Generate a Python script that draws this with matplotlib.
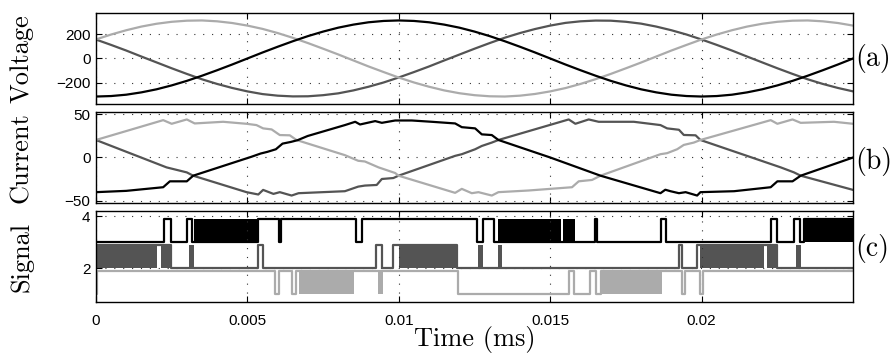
import numpy as np
import matplotlib
matplotlib.use('Agg')
import matplotlib.pyplot as plt

# ---- data ----
T_END = 0.025

# voltage, sampled every 0.5 us-step of the time axis (51 points)
v_time = np.linspace(0, T_END, 51)
v_black = [-311, -307, -296, -277, -252, -220, -183, -141, -96, -49, 0, 49, 96, 141, 183, 220, 252,
           277, 296, 307, 311, 307, 296, 277, 252, 220, 183, 141, 96, 49, 0, -49, -96, -141, -183,
           -220, -252, -277, -296, -307, -311, -307, -296, -277, -252, -220, -183, -141, -96, -49, 0]
v_light = [156, 196, 231, 261, 284, 300, 309, 311, 304, 290, 269, 242, 208, 169, 126, 80, 33, -16,
           -65, -111, -156, -196, -231, -261, -284, -300, -309, -311, -304, -290, -269, -242, -208,
           -169, -126, -80, -33, 16, 65, 111, 156, 196, 231, 261, 284, 300, 309, 311, 304, 290, 269]
v_dark = [155, 111, 65, 16, -32, -80, -126, -170, -208, -241, -269, -291, -304, -310, -309, -300,
          -285, -261, -231, -196, -155, -111, -65, -16, 32, 80, 126, 170, 208, 241, 269, 291, 304,
          310, 309, 300, 285, 261, 231, 196, 155, 111, 65, 16, -32, -80, -126, -170, -208, -241, -269]

# phase currents
i_t_black = [0, 0.001, 0.00222, 0.00244, 0.0030, 0.00321, 0.00513, 0.00544, 0.00566, 0.00594, 0.00616,
             0.00644, 0.00666, 0.00699, 0.00822, 0.00856, 0.00872, 0.00922, 0.00944, 0.00988, 0.01043,
             0.01109, 0.01186, 0.01208, 0.01252, 0.01274, 0.01307, 0.01329, 0.01500, 0.01666, 0.01864,
             0.0188, 0.01897, 0.01925, 0.01947, 0.01985, 0.01996, 0.02107, 0.02228, 0.0225, 0.023,
             0.02327, 0.025]
i_black = [-40, -38.5, -34.3, -27.5, -27.5, -21, 0.8, 4.6, 6.5, 9.5, 16, 18, 20, 24.8, 37.4, 41.2,
           38.1, 42, 40, 42.7, 42.7, 41.2, 39.3, 35, 33.6, 26.7, 25.9, 20.2, 0, -21, -41.2, -37.2,
           -38.9, -41.2, -40, -43.9, -40, -38.9, -34.3, -27.5, -27.5, -21, 0]
i_t_light = [0, 0.00222, 0.0025, 0.003, 0.00326, 0.0042, 0.00497, 0.0053, 0.00552, 0.0058, 0.00607,
             0.0064, 0.00662, 0.00822, 0.00866, 0.00888, 0.00933, 0.00988, 0.00999, 0.01186, 0.01208,
             0.01241, 0.01263, 0.01307, 0.01329, 0.01428, 0.01572, 0.01594, 0.01638, 0.01666, 0.01864,
             0.01886, 0.01919, 0.01941, 0.01974, 0.01996, 0.02228, 0.0225, 0.023, 0.02327, 0.02437, 0.025]
i_light = [20.2, 43.1, 38.9, 43.9, 39.3, 41.2, 38.9, 37.4, 33.6, 32.4, 25.9, 25.6, 20.2, 2.7, -3.8,
           -4.6, -11.4, -17.9, -21, -40.8, -36.2, -41.2, -40, -43.9, -40, -38.1, -34.3, -27.5, -25.9,
           -21, 3.8, 5, 9.5, 14.5, 17.2, 20.2, 43.1, 38.9, 43.9, 40, 41.2, 38.9]
i_t_dark = [0, 0.00233, 0.003, 0.00321, 0.00497, 0.00536, 0.00552, 0.00586, 0.00607, 0.00646, 0.00669,
            0.00822, 0.00866, 0.00888, 0.00927, 0.00944, 0.00982, 0.00999, 0.01186, 0.01208, 0.01252,
            0.01274, 0.01307, 0.01329, 0.01561, 0.01583, 0.01627, 0.0166, 0.01776, 0.01864, 0.01886,
            0.01925, 0.01941, 0.0198, 0.01996, 0.02261, 0.02305, 0.02327, 0.025]
i_dark = [20.2, -11.4, -17.2, -21, -40, -42.7, -37.4, -42, -40, -43.9, -41.2, -38.9, -33.6, -32.4,
          -31.7, -24.8, -23.7, -21, 1.9, 3.8, 9.5, 13.3, 17.2, 20.2, 43.9, 38.9, 43.9, 41.2, 41.2,
          37.4, 33.6, 32, 26, 25.6, 20.2, -11.4, -17.2, -21, -37.4]

# switching signals: start state, toggle times, and blocks of dense PWM switching
s_black_start = 0
s_black_toggles = [0.00226, 0.00247, 0.00299, 0.00318, 0.00534, 0.00603, 0.00612, 0.00858, 0.00877,
                   0.01258, 0.01278, 0.01313, 0.01647, 0.01655, 0.01866, 0.01883, 0.0223, 0.0225,
                   0.02305, 0.02325, 0.02338]
s_black_dense = [(0.00325, 0.00534), (0.01329, 0.01535), (0.01543, 0.01583), (0.02338, 0.025)]

s_dark_start = 1
s_dark_toggles = [0.00249, 0.00536, 0.0055, 0.00925, 0.00944, 0.00982, 0.01192, 0.01925, 0.01936,
                  0.01985, 0.0225]
s_dark_dense = [(0, 0.002), (0.00214, 0.00249), (0.00306, 0.00323), (0.01, 0.01192),
                (0.01263, 0.01277), (0.01329, 0.01341), (0.01996, 0.02206), (0.02215, 0.0225),
                (0.0231, 0.02327)]

s_light_start = 0
s_light_toggles = [0.00002, 0.00591, 0.00605, 0.00646, 0.0066, 0.01197, 0.01561, 0.0158, 0.01632,
                   0.0165, 0.01668, 0.01936, 0.01946, 0.01996, 0.02005]
s_light_dense = [(0.00671, 0.00853), (0.0093, 0.00947), (0.01668, 0.0187)]

x_ticks = [0, 0.005, 0.01, 0.015, 0.02]
x_ticklabels = ['0', '0.005', '0.01', '0.015', '0.02']

BLACK, DARK, LIGHT = 'k', '0.33', '0.67'
SERIF = 'cmr10'

plt.rcParams['font.family'] = 'Liberation Sans'

fig = plt.figure(figsize=(8.96, 3.56), dpi=100)
ax1 = fig.add_axes([0.1071, 0.7079, 0.845, 0.2556])
ax2 = fig.add_axes([0.1071, 0.4298, 0.845, 0.2556])
ax3 = fig.add_axes([0.1071, 0.1517, 0.845, 0.2556])


def style(ax):
    ax.set_xlim(0, T_END)
    ax.set_xticks(x_ticks)
    ax.grid(True, linestyle=(0, (1, 7)), color='0.2', lw=0.8)
    ax.tick_params(direction='in', top=True, right=True, length=4, width=0.8, labelsize=11)
    ax.tick_params(axis='y', pad=4)
    for sp in ax.spines.values():
        sp.set_linewidth(1.0)


def step_xy(start, toggles, base):
    xs, ys, s = [0.0], [start], start
    for tt in toggles:
        xs += [tt, tt]
        ys += [s, 1 - s]
        s = 1 - s
    xs.append(T_END)
    ys.append(s)
    return np.array(xs), base + 0.9 * np.array(ys)


# voltage
for y, c in [(v_dark, DARK), (v_light, LIGHT), (v_black, BLACK)]:
    ax1.plot(v_time, y, color=c, lw=1.6)
style(ax1)
ax1.set_ylim(-372, 372)
ax1.set_yticks([-200, 0, 200])
ax1.tick_params(labelbottom=False)

# current
for tx, y, c in [(i_t_dark, i_dark, DARK), (i_t_light, i_light, LIGHT), (i_t_black, i_black, BLACK)]:
    ax2.plot(tx, y, color=c, lw=1.6)
style(ax2)
ax2.set_ylim(-52.5, 52.5)
ax2.set_yticks([-50, 0, 50])
ax2.tick_params(labelbottom=False)

# signals
for start, tog, dense, base, c in [(s_light_start, s_light_toggles, s_light_dense, 1, LIGHT),
                                   (s_dark_start, s_dark_toggles, s_dark_dense, 2, DARK),
                                   (s_black_start, s_black_toggles, s_black_dense, 3, BLACK)]:
    xs, ys = step_xy(start, tog, base)
    ax3.plot(xs, ys, color=c, lw=1.6)
    for a, b in dense:
        ax3.fill_between([a, b], [base, base], [base + 0.9, base + 0.9], color=c, lw=0)
style(ax3)
ax3.set_ylim(0.7, 4.2)
ax3.set_yticks([2, 4])
ax3.set_xticklabels(x_ticklabels)
ax3.tick_params(axis='x', pad=9)
ax3.set_xlabel('Time (ms)', fontfamily=SERIF, fontsize=19, labelpad=-2)

for ax, name, tag, ty in [(ax1, 'Voltage', '(a)', 0.495), (ax2, 'Current', '(b)', 0.46),
                          (ax3, 'Signal', '(c)', 0.59)]:
    ax.set_ylabel(name, fontfamily=SERIF, fontsize=19)
    ax.yaxis.set_label_coords(-0.083, 0.5)
    ax.text(1.003, ty, tag, transform=ax.transAxes, ha='left', va='center',
            fontfamily=SERIF, fontsize=20)

fig.savefig('out.png', dpi=100)
